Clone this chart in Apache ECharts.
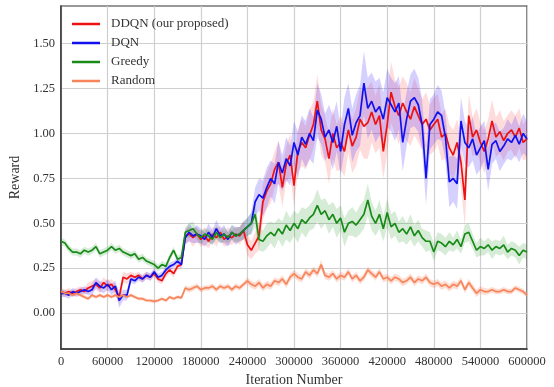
<!DOCTYPE html>
<html><head><meta charset="utf-8">
<script src="https://cdn.jsdelivr.net/npm/echarts@6/dist/echarts.min.js"></script>
<style>html,body{margin:0;padding:0;background:#fff}#c{width:554px;height:387px}</style>
</head><body><div id="c"></div>
<script>
// x grid: iteration numbers, every 5000 iterations
const iterations = Array.from({length: 121}, (_, i) => String(i * 5000));
const xTickLabels = ['0','60000','120000','180000','240000','300000','360000','420000','480000','540000','600000'];
const yTickLabels = [0, 0.25, 0.5, 0.75, 1.0, 1.25, 1.5];

const seriesNames = ['DDQN (our proposed)', 'DQN', 'Greedy', 'Random'];

const ddqn = [
0.12,0.11,0.12,0.11,0.12,0.13,0.12,0.14,0.15,0.16,
0.14,0.17,0.15,0.16,0.13,0.09,0.20,0.19,0.21,0.20,
0.21,0.19,0.21,0.20,0.22,0.19,0.18,0.22,0.24,0.22,
0.26,0.27,0.43,0.44,0.42,0.44,0.41,0.43,0.40,0.44,
0.42,0.45,0.41,0.43,0.42,0.44,0.43,0.46,0.38,0.35,
0.39,0.43,0.62,0.68,0.72,0.80,0.84,0.70,0.83,0.88,
0.71,0.90,0.95,0.92,0.99,1.05,1.18,1.02,0.97,0.86,
1.00,0.92,0.95,0.90,1.02,0.93,0.98,1.08,1.04,1.06,
1.12,1.05,1.10,0.90,1.05,1.23,1.15,1.10,1.17,1.12,
1.08,1.15,1.10,1.05,1.08,1.02,1.05,1.08,0.98,1.00,
0.92,0.88,0.95,0.84,0.63,1.10,0.98,1.02,0.95,0.90,
0.97,1.07,0.98,1.01,0.96,1.00,1.02,0.98,1.03,0.95,
0.97];
const ddqnStd = [
0.02,0.02,0.02,0.02,0.02,0.02,0.02,0.03,0.03,0.03,
0.03,0.03,0.03,0.03,0.03,0.04,0.03,0.03,0.02,0.02,
0.02,0.02,0.02,0.02,0.02,0.02,0.02,0.02,0.02,0.02,
0.02,0.02,0.04,0.04,0.05,0.04,0.04,0.05,0.04,0.04,
0.05,0.04,0.04,0.05,0.04,0.04,0.05,0.05,0.06,0.05,
0.06,0.08,0.10,0.10,0.11,0.10,0.12,0.11,0.10,0.12,
0.11,0.12,0.13,0.12,0.14,0.13,0.15,0.14,0.13,0.14,
0.14,0.13,0.15,0.14,0.13,0.15,0.16,0.17,0.18,0.20,
0.17,0.16,0.18,0.15,0.16,0.17,0.15,0.16,0.15,0.16,
0.15,0.16,0.15,0.14,0.15,0.14,0.15,0.14,0.13,0.14,
0.13,0.14,0.13,0.14,0.15,0.12,0.11,0.12,0.11,0.12,
0.11,0.12,0.11,0.12,0.11,0.10,0.11,0.12,0.11,0.10,
0.11];

const dqn = [
0.11,0.11,0.10,0.12,0.11,0.12,0.13,0.12,0.13,0.17,
0.15,0.14,0.16,0.13,0.15,0.07,0.10,0.10,0.19,0.18,
0.20,0.19,0.21,0.20,0.23,0.20,0.21,0.24,0.26,0.27,
0.29,0.27,0.42,0.45,0.43,0.44,0.43,0.41,0.45,0.42,
0.47,0.43,0.44,0.41,0.45,0.43,0.44,0.46,0.48,0.50,
0.62,0.66,0.64,0.70,0.75,0.72,0.84,0.78,0.86,0.82,
0.95,0.88,0.98,0.94,1.00,0.96,1.13,1.08,0.98,1.02,
0.95,1.04,0.90,1.05,1.14,0.99,1.06,1.10,1.28,1.14,
1.18,1.12,1.15,1.08,1.20,1.16,1.12,1.17,0.95,1.08,
1.18,1.20,1.16,1.05,0.75,1.05,1.08,1.12,1.10,0.98,
0.73,0.75,0.72,1.07,0.95,0.92,0.97,0.88,0.92,0.96,
0.80,0.94,0.96,0.90,0.93,0.97,0.95,0.99,0.94,1.00,
0.97];
const dqnStd = [
0.02,0.02,0.02,0.02,0.02,0.02,0.02,0.02,0.03,0.03,
0.03,0.03,0.03,0.03,0.03,0.04,0.03,0.03,0.02,0.02,
0.02,0.02,0.02,0.02,0.02,0.02,0.02,0.02,0.02,0.02,
0.02,0.02,0.04,0.05,0.04,0.05,0.04,0.04,0.05,0.04,
0.05,0.04,0.05,0.04,0.04,0.05,0.04,0.05,0.05,0.06,
0.08,0.09,0.10,0.11,0.10,0.11,0.12,0.10,0.12,0.11,
0.12,0.13,0.12,0.13,0.14,0.13,0.15,0.14,0.13,0.14,
0.15,0.14,0.13,0.15,0.14,0.15,0.16,0.17,0.18,0.17,
0.16,0.17,0.16,0.15,0.16,0.15,0.16,0.15,0.16,0.15,
0.15,0.16,0.15,0.14,0.15,0.14,0.14,0.15,0.14,0.13,
0.14,0.13,0.14,0.13,0.12,0.11,0.12,0.11,0.12,0.11,
0.12,0.11,0.10,0.11,0.10,0.11,0.10,0.11,0.10,0.11,
0.10];

const greedy = [
0.40,0.39,0.36,0.34,0.34,0.33,0.35,0.34,0.35,0.37,
0.33,0.34,0.35,0.37,0.35,0.36,0.34,0.33,0.32,0.33,
0.30,0.31,0.29,0.28,0.27,0.25,0.27,0.26,0.31,0.35,
0.30,0.31,0.45,0.46,0.47,0.44,0.42,0.44,0.43,0.41,
0.45,0.42,0.44,0.42,0.45,0.43,0.44,0.46,0.48,0.50,
0.55,0.41,0.40,0.43,0.45,0.43,0.47,0.44,0.49,0.46,
0.50,0.47,0.52,0.50,0.53,0.55,0.60,0.55,0.57,0.52,
0.55,0.50,0.53,0.45,0.50,0.51,0.49,0.52,0.55,0.63,
0.54,0.50,0.55,0.47,0.56,0.48,0.50,0.45,0.47,0.44,
0.48,0.43,0.46,0.42,0.40,0.40,0.34,0.40,0.39,0.37,
0.40,0.38,0.41,0.37,0.44,0.45,0.40,0.35,0.37,0.36,
0.38,0.35,0.37,0.36,0.38,0.34,0.36,0.35,0.32,0.35,
0.34];
const greedyStd = [
0.02,0.02,0.02,0.02,0.02,0.02,0.02,0.02,0.02,0.02,
0.02,0.02,0.02,0.02,0.02,0.02,0.02,0.02,0.02,0.02,
0.02,0.02,0.02,0.02,0.02,0.02,0.02,0.02,0.02,0.02,
0.02,0.02,0.03,0.04,0.04,0.03,0.04,0.03,0.04,0.03,
0.04,0.03,0.04,0.03,0.04,0.04,0.04,0.05,0.05,0.06,
0.07,0.06,0.06,0.07,0.06,0.07,0.06,0.07,0.08,0.07,
0.07,0.08,0.07,0.08,0.07,0.08,0.09,0.08,0.07,0.08,
0.07,0.08,0.07,0.08,0.07,0.08,0.07,0.08,0.08,0.09,
0.08,0.07,0.08,0.07,0.08,0.07,0.07,0.06,0.07,0.06,
0.07,0.06,0.06,0.05,0.06,0.05,0.05,0.05,0.05,0.05,
0.05,0.04,0.05,0.04,0.05,0.05,0.04,0.04,0.05,0.04,
0.04,0.05,0.04,0.04,0.05,0.04,0.04,0.04,0.05,0.04,
0.04];

const random = [
0.12,0.11,0.11,0.10,0.11,0.10,0.09,0.08,0.10,0.09,
0.10,0.09,0.10,0.09,0.10,0.09,0.10,0.09,0.10,0.09,
0.08,0.08,0.07,0.07,0.065,0.07,0.08,0.07,0.09,0.08,
0.09,0.085,0.14,0.13,0.14,0.15,0.13,0.14,0.14,0.15,
0.13,0.15,0.14,0.15,0.13,0.15,0.14,0.16,0.18,0.16,
0.15,0.17,0.14,0.16,0.15,0.18,0.17,0.19,0.16,0.20,
0.22,0.20,0.19,0.23,0.21,0.24,0.22,0.27,0.21,0.20,
0.22,0.19,0.21,0.20,0.23,0.19,0.21,0.18,0.20,0.24,
0.22,0.20,0.23,0.19,0.20,0.18,0.20,0.19,0.17,0.18,
0.20,0.17,0.19,0.18,0.20,0.17,0.16,0.17,0.15,0.16,
0.14,0.16,0.15,0.18,0.13,0.17,0.14,0.11,0.13,0.12,
0.12,0.13,0.12,0.12,0.13,0.12,0.12,0.14,0.13,0.12,
0.10];
const randomStd = [
0.01,0.01,0.01,0.01,0.01,0.01,0.01,0.01,0.01,0.01,
0.01,0.01,0.01,0.01,0.01,0.01,0.01,0.01,0.01,0.01,
0.01,0.01,0.01,0.01,0.01,0.01,0.01,0.01,0.01,0.01,
0.01,0.01,0.015,0.015,0.015,0.015,0.015,0.015,0.015,0.015,
0.015,0.015,0.015,0.015,0.015,0.015,0.015,0.015,0.02,0.02,
0.02,0.02,0.02,0.02,0.02,0.02,0.02,0.02,0.02,0.02,
0.02,0.02,0.02,0.02,0.02,0.02,0.02,0.025,0.02,0.02,
0.02,0.02,0.02,0.02,0.02,0.02,0.02,0.02,0.02,0.02,
0.02,0.02,0.02,0.02,0.02,0.02,0.02,0.02,0.02,0.02,
0.02,0.02,0.02,0.02,0.02,0.02,0.02,0.02,0.02,0.02,
0.02,0.02,0.02,0.02,0.02,0.02,0.02,0.02,0.02,0.02,
0.015,0.015,0.015,0.015,0.015,0.015,0.015,0.015,0.015,0.015,
0.015];

const colors = ['#ee1111', '#1111ee', '#188a18', '#f7845a'];
const bandColors = ['rgba(255,60,60,0.18)', 'rgba(70,40,255,0.22)', 'rgba(30,150,30,0.18)', 'rgba(250,130,90,0.28)'];
const means = [ddqn, dqn, greedy, random];
const stds = [ddqnStd, dqnStd, greedyStd, randomStd];

const FONT = "'Liberation Serif', 'DejaVu Serif', serif";
const series = [];
// bands first
means.forEach((m, k) => {
  const s = stds[k];
  const lower = m.map((v, i) => +(v - s[i]).toFixed(4));
  const width = s.map(v => +(2 * v).toFixed(4));
  series.push({type: 'line', name: 'band' + k + 'lo', stack: 'band' + k, data: lower,
    symbol: 'none', silent: true, lineStyle: {opacity: 0}, z: 1});
  series.push({type: 'line', name: 'band' + k + 'w', stack: 'band' + k, data: width,
    symbol: 'none', silent: true, lineStyle: {opacity: 0}, areaStyle: {color: bandColors[k], opacity: 1}, z: 1});
});
means.forEach((m, k) => {
  series.push({type: 'line', name: seriesNames[k], data: m, symbol: 'none',
    lineStyle: {color: colors[k], width: 1.7}, itemStyle: {color: colors[k]}, z: 3 + k});
});

const chart = echarts.init(document.getElementById('c'), null, {renderer: 'canvas'});
chart.setOption({
  animation: false,
  backgroundColor: '#fff',
  textStyle: {fontFamily: FONT},
  grid: {left: 61, right: 27, top: 6, bottom: 38, show: true, borderColor: '#333', borderWidth: 1.2,
    backgroundColor: 'transparent', containLabel: false, outerBoundsMode: 'none'},
  legend: {
    data: seriesNames, orient: 'vertical', left: 72, top: 17, padding: 0,
    icon: 'rect', itemWidth: 28, itemHeight: 2.5, itemGap: 5,
    textStyle: {fontFamily: FONT, fontSize: 13, color: '#333', lineHeight: 14, padding: [0, 0, 0, 6]}
  },
  xAxis: {
    type: 'category', data: iterations, boundaryGap: false,
    axisLine: {onZero: false, lineStyle: {color: '#333', width: 1.5}},
    axisTick: {show: false},
    axisLabel: {interval: 11, color: '#333', fontSize: 12.5, fontFamily: FONT, margin: 6,
      formatter: v => xTickLabels.includes(v) ? v : ''},
    splitLine: {show: true, interval: 11, lineStyle: {color: '#cfcfcf', width: 1.2}},
    name: 'Iteration Number', nameLocation: 'middle', nameGap: 21,
    nameTextStyle: {fontSize: 14, color: '#333', fontFamily: FONT}
  },
  yAxis: {
    type: 'value', min: -0.2, max: 1.71,
    axisLine: {show: true, onZero: false, lineStyle: {color: '#333', width: 1.5}},
    axisTick: {show: false, customValues: yTickLabels},
    axisLabel: {color: '#333', fontSize: 12.5, fontFamily: FONT, margin: 6,
      customValues: yTickLabels,
      formatter: v => Number(v).toFixed(2)},
    splitLine: {show: true, lineStyle: {color: '#cfcfcf', width: 1.2}},
    name: 'Reward', nameLocation: 'middle', nameGap: 36,
    nameTextStyle: {fontSize: 14, color: '#333', fontFamily: FONT}
  },
  series: series
});
</script></body></html>
